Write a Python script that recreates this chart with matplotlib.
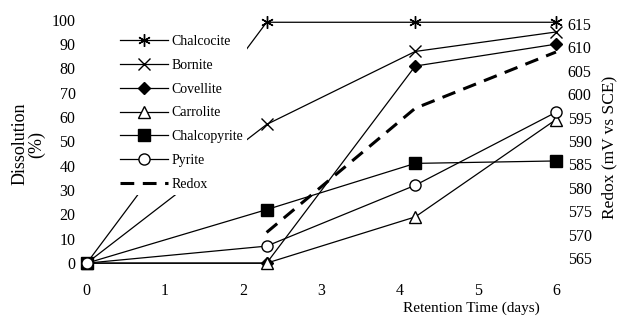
import matplotlib.pyplot as plt

plt.rcParams['font.family'] = ['Liberation Serif', 'DejaVu Serif']
plt.rcParams['font.size'] = 11

days = [0, 2.3, 4.2, 6]
chalcocite = [0, 99, 99, 99]
bornite = [0, 57, 87, 95]
covellite = [0, 0, 81, 90]
carrolite = [0, 0, 19, 59]
chalcopyrite = [0, 22, 41, 42]
pyrite = [0, 7, 32, 62]

redox_days = [2.3, 4.2, 6]
redox = [570.5, 597, 609]

fig = plt.figure(figsize=(6.18, 3.18), dpi=100)
ax = fig.add_axes([0.129, 0.135, 0.782, 0.834])
ax2 = ax.twinx()

lw = 0.9
h1, = ax.plot(days, chalcocite, color='k', lw=lw, marker=(6, 2, 0), ms=9, mew=1.0, label='Chalcocite')
h2, = ax.plot(days, bornite, color='k', lw=lw, marker='x', ms=8, mew=1.0, label='Bornite')
h3, = ax.plot(days, covellite, color='k', lw=lw, marker='D', ms=6, mfc='k', label='Covellite')
h4, = ax.plot(days, carrolite, color='k', lw=lw, marker='^', ms=8, mfc='white', mew=1.0, label='Carrolite')
h5, = ax.plot(days, chalcopyrite, color='k', lw=lw, marker='s', ms=8, mfc='k', label='Chalcopyrite')
h6, = ax.plot(days, pyrite, color='k', lw=lw, marker='o', ms=8, mfc='white', mew=1.0, label='Pyrite')
h7, = ax2.plot(redox_days, redox, color='k', lw=2.2, ls=(0, (4.5, 2.8)), label='Redox')

ax.set_xlim(-0.09, 6.09)
ax.set_ylim(-4.9, 104.1)
ax2.set_ylim(561.4, 618.0)
ax.set_xticks([0, 1, 2, 3, 4, 5, 6])
ax.set_yticks(range(0, 101, 10))
ax2.set_yticks(range(565, 616, 5))

for a in (ax, ax2):
    for s in a.spines.values():
        s.set_visible(False)
    a.tick_params(length=0, labelsize=11.5)
ax.tick_params(axis='y', pad=3)
ax.tick_params(axis='x', pad=6)
ax2.tick_params(axis='y', pad=3.5)

ax.set_ylabel('Dissolution\n(%)', linespacing=0.95, fontsize=13)
ax.yaxis.set_label_coords(-0.072, 0.494)
ax2.set_ylabel('Redox (mV vs SCE)', fontsize=12.5)
ax2.yaxis.set_label_coords(1.079, 0.483)
ax.set_xlabel('Retention Time (days)')
ax.xaxis.set_label_coords(0.81, -0.1)

leg = ax2.legend(handles=[h1, h2, h3, h4, h5, h6, h7], loc='upper left',
                 bbox_to_anchor=(0.177, 0.925), bbox_transform=fig.transFigure,
                 frameon=True, facecolor='white', edgecolor='none', framealpha=1,
                 handlelength=3.45, handletextpad=0.2, labelspacing=0.78,
                 borderpad=0.3, fontsize=10)

fig.savefig('out.png', dpi=100)
